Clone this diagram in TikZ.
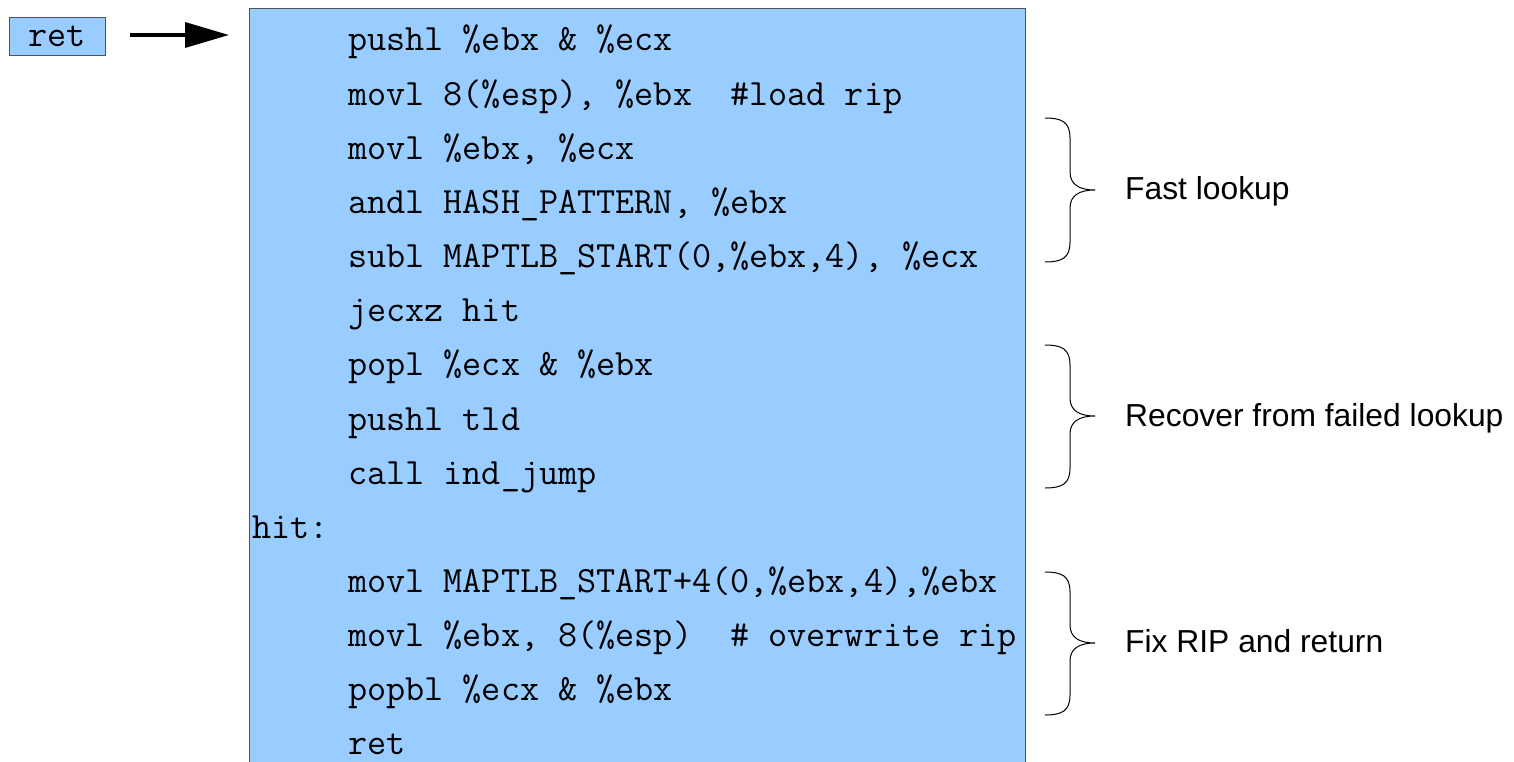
\documentclass[tikz,border=0pt]{standalone}
\usepackage{fontspec}
\setmainfont{Liberation Sans}
\usetikzlibrary{arrows.meta}
\definecolor{boxfill}{HTML}{99CCFF}
\definecolor{boxline}{HTML}{4A5561}
\tikzset{
  codeline/.style={anchor=base west, inner sep=0pt, font=\fontsize{37.1}{40}\selectfont\ttfamily},
  label/.style={anchor=base west, inner sep=0pt, font=\fontsize{31.8}{38}\selectfont},
  bracepath/.style={draw=black, line width=1pt},
}
\newcommand{\mybrace}[3]{%
  \draw[bracepath] (1045,#1) .. controls (1062,#1) and (1070,#1+4) .. (1070,#1+20)
    -- (1070,#2-18) .. controls (1070,#2-5) and (1080,#2) .. (1095,#2)
    .. controls (1080,#2) and (1070,#2+5) .. (1070,#2+18)
    -- (1070,#3-20) .. controls (1070,#3-4) and (1062,#3) .. (1045,#3);}
\begin{document}
\begin{tikzpicture}[x=1pt,y=-1pt]
\useasboundingbox (0,0) rectangle (1514,762);
\fill[white] (0,0) rectangle (1514,762);
% main code box
\draw[boxline, fill=boxfill, line width=1pt] (249,9) rectangle (1025,775);
\coordinate (code) at (249,35);
% ret box
\node[draw=boxline, fill=boxfill, line width=1pt, minimum width=96, minimum height=38, inner sep=0pt, anchor=center] (retbox) at (57,37) {};
\node[codeline, anchor=base] (rettext) at (57,47) {ret};
\coordinate (arrstart) at (130,35);
\coordinate (arrend) at (229,35);
\draw[line width=3.5pt, -{Triangle[length=44pt,width=25pt]}] (arrstart) -- (arrend);
% code lines
\def\lx{348}
\node[codeline] (l1) at (\lx,51) {pushl \%ebx \& \%ecx};
\node[codeline] (l2) at (\lx,105.15) {movl 8(\%esp), \%ebx~~\#load rip};
\node[codeline] (l3) at (\lx,159.3) {movl \%ebx, \%ecx};
\node[codeline] (l4) at (\lx,213.45) {andl HASH\_PATTERN, \%ebx};
\node[codeline] (l5) at (\lx,267.6) {subl MAPTLB\_START(0,\%ebx,4), \%ecx};
\node[codeline] (l6) at (\lx,321.75) {jecxz hit};
\node[codeline] (l7) at (\lx,375.9) {popl \%ecx \& \%ebx};
\node[codeline] (l8) at (\lx,430.05) {pushl tld};
\node[codeline] (l9) at (\lx,484.2) {call ind\_jump};
\node[codeline] (l10) at (252,538.35) {hit:};
\node[codeline] (l11) at (\lx,592.5) {movl MAPTLB\_START+4(0,\%ebx,4),\%ebx};
\node[codeline] (l12) at (\lx,646.65) {movl \%ebx, 8(\%esp)~~\# overwrite rip};
\node[codeline] (l13) at (\lx,700.8) {popbl \%ecx \& \%ebx};
\node[codeline] (l14) at (\lx,754.95) {ret};
% braces
\mybrace{118}{190}{262}
\mybrace{345}{416}{488}
\mybrace{572}{643}{715}
% labels
\node[label] (fast) at (1125,200) {Fast lookup};
\node[label] (recover) at (1125,426) {Recover from failed lookup};
\node[label] (fix) at (1125,652) {Fix RIP and return};
\end{tikzpicture}
\end{document}
